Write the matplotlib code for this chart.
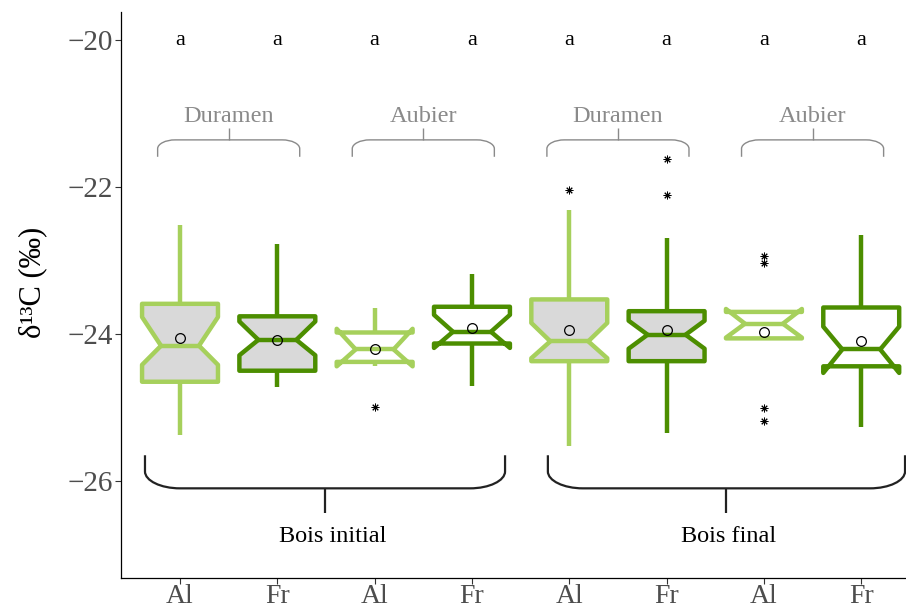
import matplotlib
matplotlib.use('Agg')
import matplotlib.pyplot as plt
from matplotlib.path import Path
from matplotlib.patches import PathPatch

plt.rcParams['font.family'] = ['Liberation Serif', 'DejaVu Serif']

# ---------------- data ----------------
species = ['Al', 'Fr', 'Al', 'Fr', 'Al', 'Fr', 'Al', 'Fr']
tissue = ['Duramen', 'Aubier', 'Duramen', 'Aubier']
wood = ['Bois initial', 'Bois final']
letters = ['a', 'a', 'a', 'a', 'a', 'a', 'a', 'a']

whislo = [-25.37, -24.72, -24.43, -24.71, -25.53, -25.35, -24.06, -25.26]
q1 = [-24.65, -24.50, -24.38, -24.13, -24.37, -24.37, -24.06, -24.44]
cilo = [-24.42, -24.29, -24.44, -24.19, -24.33, -24.20, -24.05, -24.53]
med = [-24.16, -24.08, -24.21, -23.97, -24.10, -24.01, -23.86, -24.21]
cihi = [-23.77, -23.83, -23.93, -23.74, -23.85, -23.82, -23.66, -23.90]
q3 = [-23.59, -23.76, -23.98, -23.63, -23.53, -23.69, -23.70, -23.64]
whishi = [-22.52, -22.77, -23.65, -23.18, -22.31, -22.70, -23.70, -22.65]
means = [-24.06, -24.08, -24.21, -23.92, -23.95, -23.95, -23.97, -24.09]
outliers = [[], [], [-24.99], [], [-22.04], [-21.62, -22.11],
            [-22.94, -23.04, -25.01, -25.19], []]

yticks = [-20, -22, -24, -26]
ytick_labels = ['\u221220', '\u221222', '\u221224', '\u221226']

# ---------------- style ----------------
col_light = '#a6d05c'
col_dark = '#4c8e00'
fill_gray = '#d9d9d9'
box_fill = [fill_gray, fill_gray, 'white', 'white', fill_gray, fill_gray, 'white', 'white']

fig = plt.figure(figsize=(9.06, 6.08), dpi=100)
ax = fig.add_axes([0.1336, 0.0493, 0.8664, 0.931])

positions = list(range(1, len(species) + 1))
for i, pos in enumerate(positions):
    col = col_light if species[i] == 'Al' else col_dark
    st = dict(med=med[i], q1=q1[i], q3=q3[i], whislo=whislo[i], whishi=whishi[i],
              cilo=cilo[i], cihi=cihi[i], mean=means[i], fliers=outliers[i])
    ax.bxp([st], positions=[pos], widths=0.78, shownotches=True, showmeans=True,
           showcaps=False, patch_artist=True,
           boxprops=dict(facecolor=box_fill[i], edgecolor=col, linewidth=3.2,
                         joinstyle='round'),
           whiskerprops=dict(color=col, linewidth=3.2, solid_capstyle='butt'),
           medianprops=dict(color=col, linewidth=3.2, solid_capstyle='round'),
           meanprops=dict(marker='o', markerfacecolor='none', markeredgecolor='black',
                          markersize=7, markeredgewidth=0.9),
           flierprops=dict(marker=(8, 2, 0), markerfacecolor='black',
                           markeredgecolor='black', markersize=5.5, markeredgewidth=0.7))

ax.set_xlim(0.394, 8.46)
ax.set_ylim(-27.32, -19.62)
ax.set_xticks(positions)
ax.set_xticklabels(species)
ax.set_yticks(yticks)
ax.set_yticklabels(ytick_labels)
ax.tick_params(axis='both', length=4, width=0.8, color='#333333',
               labelcolor='#4d4d4d', labelsize=21)
ax.tick_params(axis='x', pad=0.3, labelsize=20)
ax.tick_params(axis='y', pad=2)
for s in ['top', 'right']:
    ax.spines[s].set_visible(False)
for s in ['left', 'bottom']:
    ax.spines[s].set_linewidth(0.9)
    ax.spines[s].set_color('black')

ax.set_ylabel('\u03b4\u00b9\u00b3C (\u2030)', fontsize=22)
ax.yaxis.set_label_coords(-0.094, 0.522)

# letters
for i, pos in enumerate(positions):
    ax.text(pos, -20.07, letters[i], ha='center', va='baseline', fontsize=16, color='black')


def brace(x0, x1, xc, y_end, y_line, y_tip, rx, ry, color, lw):
    s = 1 if y_end < y_line else -1
    k = 0.55
    verts = [(x0, y_end), (x0, y_line - s * ry),
             (x0, y_line - s * ry * (1 - k)), (x0 + rx * (1 - k), y_line), (x0 + rx, y_line),
             (x1 - rx, y_line),
             (x1 - rx * (1 - k), y_line), (x1, y_line - s * ry * (1 - k)), (x1, y_line - s * ry),
             (x1, y_end)]
    codes = [Path.MOVETO, Path.LINETO, Path.CURVE4, Path.CURVE4, Path.CURVE4,
             Path.LINETO, Path.CURVE4, Path.CURVE4, Path.CURVE4, Path.LINETO]
    ax.add_patch(PathPatch(Path(verts, codes), fill=False, edgecolor=color, lw=lw,
                           clip_on=False))
    ax.plot([xc, xc], [y_line, y_tip], color=color, lw=lw, clip_on=False,
            solid_capstyle='butt')


# top braces (tissue)
gray_txt = '#8a8a8a'
for j, name in enumerate(tissue):
    c = 1.5 + 2 * j
    brace(c - 0.73, c + 0.73, c, -21.59, -21.36, -21.20, 0.18, 0.12, gray_txt, 1.0)
    ax.text(c, -21.11, name, ha='center', va='baseline', fontsize=17.5, color=gray_txt)

# bottom braces (wood)
brace(0.64, 4.34, 2.49, -25.65, -26.10, -26.44, 0.36, 0.23, '#222222', 1.6)
brace(4.78, 8.45, 6.61, -25.65, -26.10, -26.44, 0.36, 0.23, '#222222', 1.6)
ax.text(2.57, -26.83, wood[0], ha='center', va='baseline', fontsize=17.5, color='black')
ax.text(6.64, -26.83, wood[1], ha='center', va='baseline', fontsize=17.5, color='black')

fig.savefig('out.png', dpi=100)
